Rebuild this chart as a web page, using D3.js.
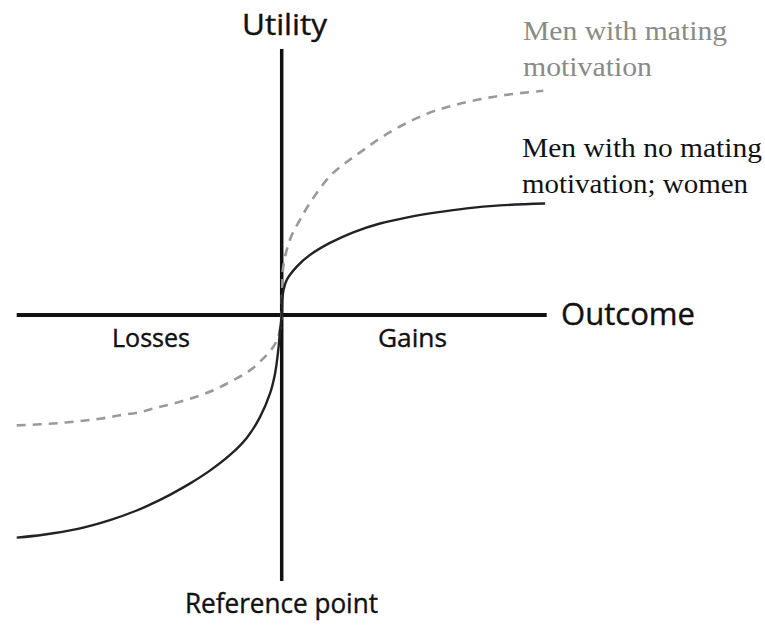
<!DOCTYPE html>
<meta charset="utf-8">

<script src="https://d3js.org/d3.v7.min.js"></script>

<style type="text/css">

    body {
        margin: 0;
        background: #fff;
    }

    .sans {
        font-family: "Open Sans", "DejaVu Sans", sans-serif;
        fill: #111;
        stroke: #111;
        stroke-width: 0.4px;
    }

    .serif {
        font-family: "Liberation Serif", "DejaVu Serif", serif;
    }

</style>

<body>
</body>

<script>

// Outcome (x) and utility (y) values, both axes run -1..1

// Men with no mating motivation; women (solid)
var noMatingX = [-1.0, -0.9, -0.774, -0.648, -0.547, -0.497, -0.422, -0.347, -0.271, -0.196, -0.132, -0.082, -0.044, -0.025, -0.013, -0.006, 0,
    0.002, 0.007, 0.019, 0.057, 0.107, 0.182, 0.27, 0.371, 0.484, 0.572, 0.698, 0.824, 0.994];
var noMatingY = [-0.837, -0.826, -0.805, -0.771, -0.735, -0.713, -0.676, -0.634, -0.585, -0.527, -0.462, -0.384, -0.295, -0.22, -0.132, -0.057, 0,
    0.057, 0.094, 0.132, 0.182, 0.226, 0.271, 0.311, 0.344, 0.369, 0.384, 0.401, 0.412, 0.419];

// Men with mating motivation (dashed)
var matingX = [-1.0, -0.912, -0.837, -0.762, -0.686, -0.61, -0.535, -0.472, -0.409, -0.334, -0.258, -0.183, -0.12, -0.069, -0.032, -0.013, -0.003, 0,
    0.002, 0.006, 0.031, 0.069, 0.119, 0.182, 0.245, 0.308, 0.383, 0.472, 0.56, 0.648, 0.748, 0.849, 0.987];
var matingY = [-0.415, -0.411, -0.406, -0.399, -0.39, -0.377, -0.365, -0.348, -0.333, -0.311, -0.283, -0.245, -0.208, -0.163, -0.12, -0.082, -0.03, 0,
    0.094, 0.182, 0.283, 0.358, 0.44, 0.522, 0.575, 0.62, 0.672, 0.722, 0.761, 0.788, 0.811, 0.828, 0.843];

var matingLabel = ["Men with mating", "motivation"];
var noMatingLabel = ["Men with no mating", "motivation; women"];

//Define svg and scales here:

var width = 765;
var height = 625;

var svg = d3.select("body").append("svg")
    .attr("width", width)
    .attr("height", height);

var xScale = d3.scaleLinear()
    .domain([-1, 1])
    .range([16.7, 546.7]);

var yScale = d3.scaleLinear()
    .domain([-1, 1])
    .range([581, 49]);

function toPoints(xs, ys) {
    return xs.map(function(x, i) { return [x, ys[i]]; });
}

var line = d3.line()
    .x(function(d) { return xScale(d[0]); })
    .y(function(d) { return yScale(d[1]); })
    .curve(d3.curveCatmullRom.alpha(0.5));

// axes: plain lines through the reference point
svg.append("line")
    .attr("x1", xScale(-1))
    .attr("x2", xScale(1))
    .attr("y1", yScale(0))
    .attr("y2", yScale(0))
    .style("stroke", "#111")
    .style("stroke-width", 4);

svg.append("line")
    .attr("x1", xScale(0))
    .attr("x2", xScale(0))
    .attr("y1", yScale(1))
    .attr("y2", yScale(-1))
    .style("stroke", "#111")
    .style("stroke-width", 3.5);

// curves
svg.append("path")
    .datum(toPoints(matingX, matingY))
    .attr("d", line)
    .style("fill", "none")
    .style("stroke", "#9a9a9a")
    .style("stroke-width", 2.6)
    .style("stroke-dasharray", "9,7");

svg.append("path")
    .datum(toPoints(noMatingX, noMatingY))
    .attr("d", line)
    .style("fill", "none")
    .style("stroke", "#222")
    .style("stroke-width", 2.4);

// axis labels
function addText(str, x, y, size, len, cls) {
    return svg.append("text")
        .attr("class", cls)
        .attr("x", x)
        .attr("y", y)
        .attr("textLength", len)
        .attr("lengthAdjust", "spacingAndGlyphs")
        .style("font-size", size + "px")
        .text(str);
}

addText("Utility", 242, 35, 29, 85, "sans");
addText("Outcome", 561, 325, 31, 134, "sans");
addText("Losses", 112, 347, 25, 78, "sans");
addText("Gains", 378, 347, 25, 69, "sans");
addText("Reference point", 185, 613, 27, 193, "sans");

// curve labels
addText(matingLabel[0], 523, 40, 27, 204, "serif").style("fill", "#8a8a8a");
addText(matingLabel[1], 523, 76, 27, 129, "serif").style("fill", "#8a8a8a");
addText(noMatingLabel[0], 522, 157, 27, 240, "serif").style("fill", "#111");
addText(noMatingLabel[1], 522, 193, 27, 226, "serif").style("fill", "#111");

</script>
